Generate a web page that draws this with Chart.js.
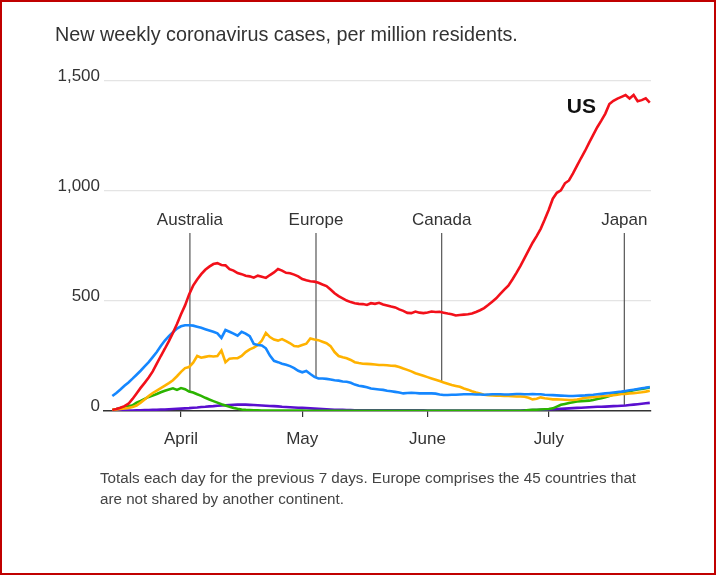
<!DOCTYPE html>
<html><head><meta charset="utf-8">
<script src="https://cdn.jsdelivr.net/npm/chart.js@4"></script>
<style>
html,body{margin:0;padding:0;background:#fff;}
body{position:relative;width:716px;height:575px;overflow:hidden;font-family:"Liberation Sans",Arial,sans-serif;}
#c{position:absolute;left:0;top:0;}
#frame{position:absolute;left:0;top:0;width:716px;height:575px;box-sizing:border-box;border:2px solid #c00000;pointer-events:none;}
#title{position:absolute;left:55px;top:22px;font-size:19.8px;line-height:25px;color:#333;white-space:nowrap;}
#foot{position:absolute;left:100px;top:467px;font-size:15.2px;line-height:21px;color:#444;white-space:nowrap;}
</style></head>
<body>
<canvas id="c" width="716" height="575"></canvas>
<div id="title">New weekly coronavirus cases, per million residents.</div>
<div id="foot">Totals each day for the previous 7 days. Europe comprises the 45 countries that<br>are not shared by another continent.</div>
<div id="frame"></div>
<script>
// Day 0 = April 1; series start on March 15 (day -17), one value per day through July 26.
const startDay = -17;
const monthNames = ['April', 'May', 'June', 'July'];
const monthDays = [0, 30, 61, 91];
const yTickValues = [0, 500, 1000, 1500];

const us = [
 5,9,15,22,33,55,80,105,128,152,
 180,215,250,283,318,355,395,440,480,530,
 570,598,622,642,656,668,672,664,662,645,
 638,627,622,615,612,606,615,610,605,618,
 630,645,638,628,626,620,612,600,594,590,
 588,583,575,568,552,535,522,512,502,495,
 490,487,486,482,490,487,492,484,480,475,
 471,462,455,446,445,452,447,445,448,452,
 450,451,447,443,440,434,436,438,440,443,
 450,458,468,482,497,512,532,552,570,598,
 628,660,695,730,765,795,828,870,915,965,
 992,1003,1035,1048,1080,1115,1150,1183,1220,1255,
 1290,1320,1352,1395,1410,1420,1428,1436,1420,1436,
 1408,1413,1421,1402];
const europe = [
 68,82,98,115,130,147,165,183,203,222,
 245,268,295,320,340,358,375,385,390,390,
 388,383,378,372,366,360,353,332,368,360,
 352,342,360,352,340,305,300,298,285,252,
 228,222,215,210,204,195,183,176,182,168,
 155,148,148,146,143,140,138,134,133,128,
 120,115,112,108,102,100,98,96,92,90,
 87,84,80,82,83,82,80,80,80,80,
 79,75,73,73,74,74,75,76,76,76,
 75,75,74,75,76,76,76,75,75,76,
 77,77,76,76,77,76,76,74,73,72,
 71,70,69,68,68,69,70,71,73,74,
 76,78,80,82,84,86,88,91,94,97,
 100,103,106,109];
const canada = [
 5,7,9,11,14,18,25,38,52,68,
 82,93,104,115,127,140,158,178,195,200,
 220,250,242,246,250,248,250,275,222,238,
 240,240,250,268,280,288,300,320,355,336,
 325,320,327,318,308,295,293,300,306,330,
 325,322,315,308,295,268,250,244,240,232,
 222,218,215,214,213,211,209,209,208,206,
 205,200,193,187,180,172,166,160,154,148,
 142,136,130,124,118,114,110,102,97,90,
 84,80,74,72,71,70,69,68,68,67,
 66,66,65,60,53,56,62,58,56,53,
 53,52,51,50,50,52,56,60,62,63,
 65,67,68,70,72,74,77,78,80,81,
 83,85,88,92];
const australia = [
 5,9,14,18,22,26,38,46,55,64,
 70,77,85,92,98,103,96,104,99,88,
 84,76,69,60,52,45,38,31,25,19,
 14,10,7,5,4,3,3,2,2,2,
 2,2,2,2,2,2,2,2,1,1,
 1,1,1,1,1,1,1,1,1,1,
 1,1,1,1,1,1,1,1,1,1,
 1,1,1,1,1,1,1,1,1,1,
 1,1,1,1,1,1,1,1,1,1,
 1,1,1,1,1,1,1,1,1,1,
 1,1,2,4,5,6,7,8,9,12,
 20,28,32,36,40,43,45,46,47,50,
 55,58,63,68,75,78,82,87,90,94,
 98,100,104,107];
const japan = [
 1,1,1,2,2,2,3,3,4,4,
 5,6,7,7,8,9,10,11,12,13,
 15,16,18,19,21,22,24,25,26,27,
 28,29,29,29,28,27,26,25,24,23,
 22,21,19,18,17,16,15,14,13,12,
 11,10,9,8,7,6,5,5,4,4,
 3,3,3,3,3,3,3,3,3,3,
 3,3,3,3,3,3,3,3,2,2,
 2,2,2,2,2,2,2,2,2,2,
 2,2,2,2,2,2,2,2,2,2,
 2,2,3,3,4,4,5,6,7,8,
 9,10,11,12,13,14,15,16,17,18,
 19,19,20,21,22,23,24,25,27,29,
 31,33,35,37];

const annoNames = ['Australia', 'Europe', 'Canada', 'Japan'];
const annoDays = [2.2, 33.4, 64.5, 109.7];
const annoSeries = [australia, europe, canada, japan];

function toPoints(arr){ return arr.map((v,i)=>({x:startDay+i, y:v})); }
function valueAt(arr, day){
  const f = day - startDay, i = Math.floor(f), t = f - i;
  const a = arr[i], b = arr[Math.min(i+1, arr.length-1)];
  return a + (b - a) * t;
}

const FONT = '"Liberation Sans", Arial, sans-serif';

const annoPlugin = {
  id: 'anno',
  beforeDatasetsDraw(chart){
    const {ctx, scales:{x, y}, chartArea} = chart;
    ctx.save();
    ctx.strokeStyle = '#555';
    ctx.lineWidth = 1.2;
    annoNames.forEach((n, i) => {
      const px = x.getPixelForValue(annoDays[i]);
      const py = y.getPixelForValue(valueAt(annoSeries[i], annoDays[i]));
      ctx.beginPath();
      ctx.moveTo(px, chartArea.top + 152);
      ctx.lineTo(px, py);
      ctx.stroke();
    });
    ctx.restore();
  },
  afterDatasetsDraw(chart){
    const {ctx, scales:{x}, chartArea} = chart;
    ctx.save();
    ctx.fillStyle = '#333';
    ctx.font = '17px ' + FONT;
    ctx.textAlign = 'center';
    ctx.textBaseline = 'middle';
    annoNames.forEach((n, i) => {
      ctx.fillText(n, x.getPixelForValue(annoDays[i]), chartArea.top + 139);
    });
    ctx.fillStyle = '#111';
    ctx.font = 'bold 21px ' + FONT;
    ctx.textAlign = 'right';
    ctx.fillText('US', chartArea.right - 55, chartArea.top + 26);
    ctx.restore();
  }
};

const ds = (data, color) => ({
  data: toPoints(data), borderColor: color, borderWidth: 2.6,
  pointRadius: 0, tension: 0, fill: false
});

new Chart(document.getElementById('c'), {
  type: 'line',
  data: {
    datasets: [
      ds(us, '#f2101a'),
      ds(europe, '#1587ff'),
      ds(canada, '#ffb200'),
      ds(australia, '#2bb400'),
      ds(japan, '#5a0fcf')
    ]
  },
  options: {
    responsive: false,
    devicePixelRatio: 1,
    animation: false,
    layout: { padding: { left: 55, right: 65, top: 81, bottom: 124 } },
    plugins: { legend: { display: false }, tooltip: { enabled: false }, title: { display: false } },
    scales: {
      x: {
        type: 'linear',
        min: -19.06, max: 116.3,
        afterBuildTicks: s => { s.ticks = monthDays.map(v => ({value: v})); },
        afterFit: s => { s.height = 40; },
        ticks: {
          autoSkip: false, maxRotation: 0, padding: 12, color: '#333',
          font: { family: FONT, size: 17 },
          callback: v => monthNames[monthDays.indexOf(v)]
        },
        grid: { drawOnChartArea: false, drawTicks: true, tickLength: 6, color: '#333', lineWidth: 1.2 },
        border: { display: true, color: '#333', width: 1.6 }
      },
      y: {
        min: 0, max: 1500,
        afterBuildTicks: s => { s.ticks = yTickValues.map(v => ({value: v})); },
        afterFit: s => { s.width = 49; },
        ticks: {
          padding: 4, labelOffset: -5, color: '#333',
          font: { family: FONT, size: 17 },
          callback: v => v.toLocaleString('en-US')
        },
        grid: {
          drawTicks: false,
          color: c => c.tick && c.tick.value === 0 ? 'rgba(0,0,0,0)' : '#e4e4e4',
          lineWidth: 1.2
        },
        border: { display: false }
      }
    }
  },
  plugins: [annoPlugin]
});
</script>
</body></html>
